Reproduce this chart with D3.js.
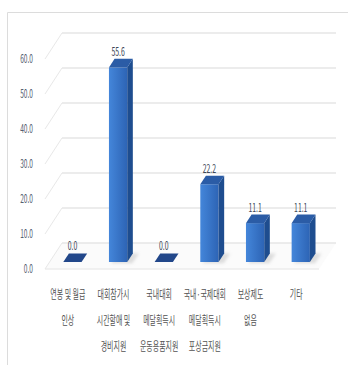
<!DOCTYPE html>
<html><head><meta charset="utf-8">
<script src="https://cdn.jsdelivr.net/npm/d3@7/dist/d3.min.js"></script>
<style>html,body{margin:0;padding:0;background:#fff;}svg{display:block;}</style>
</head><body>
<script>
const categories = ["연봉 및 월급 인상","대회참가시 시간할애 및 경비지원","국내대회 메달획득시 운동용품지원","국내·국제대회 메달획득시 포상금지원","보상제도 없음","기타"];
const categoryLines = [["연봉 및 월급","인상"],["대회참가시","시간할애 및","경비지원"],["국내대회","메달획득시","운동용품지원"],["국내·국제대회","메달획득시","포상금지원"],["보상제도","없음"],["기타"]];
const values = [0.0, 55.6, 0.0, 22.2, 11.1, 11.1];
const ticks = [0, 10, 20, 30, 40, 50, 60];

const W = 348, H = 365;
const svg = d3.select("body").append("svg").attr("width", W).attr("height", H);
const defs = svg.append("defs");
const g1 = defs.append("linearGradient").attr("id","front").attr("x1","0").attr("x2","1").attr("y1","0").attr("y2","0");
g1.append("stop").attr("offset","0").attr("stop-color","#4486da");
g1.append("stop").attr("offset","1").attr("stop-color","#2d64b5");
const blur = defs.append("filter").attr("id","blur").attr("x","-50%").attr("y","-50%").attr("width","200%").attr("height","200%");
blur.append("feGaussianBlur").attr("stdDeviation","1.6");

const FONT = "'Noto Sans CJK KR','Noto Sans',sans-serif";
const SX = 0.58;

// frame
svg.append("path").attr("d", `M7.5,${H} L7.5,12.5 L${W},12.5`).attr("fill","none").attr("stroke","#dcdcdc").attr("stroke-width",1);

const x = d3.scaleBand().domain(categories).range([45, 319]);
const y = d3.scaleLinear().domain([0, 60]).range([0, 210]);
const Y0 = 269, DX = 17, DY = -26;
const P = (px, v, d) => [px + d * DX, Y0 - y(v) + d * DY];
const pts = a => a.map(p => p.join(",")).join(" ");

// floor
svg.append("polygon").attr("points", pts([P(45,0,0),P(319,0,0),P(319,0,1),P(45,0,1)]))
  .attr("fill","#fbfbfb").attr("stroke","none");
svg.append("line").attr("x1",P(45,0,0)[0]).attr("y1",P(45,0,0)[1]).attr("x2",P(319,0,0)[0]).attr("y2",P(319,0,0)[1])
  .attr("stroke","#e4e4e4").attr("stroke-width",1);

// gridlines: side wall slants and back wall
ticks.forEach(t => {
  const a = P(45,t,0), b = P(45,t,1), c = P(319,t,1);
  svg.append("line").attr("x1",a[0]).attr("y1",a[1]).attr("x2",b[0]).attr("y2",b[1]).attr("stroke","#e8e8e8").attr("stroke-width",1);
  svg.append("line").attr("x1",b[0]).attr("y1",b[1]).attr("x2",c[0]).attr("y2",c[1]).attr("stroke","#e6e6e6").attr("stroke-width",1.6);
});

// tick labels
ticks.forEach(t => {
  const a = P(45,t,0);
  svg.append("text").attr("transform",`translate(33,${a[1]+4}) scale(0.55,1)`)
    .attr("text-anchor","end").attr("font-family",FONT).attr("font-size",12).attr("fill","#556070")
    .text(d3.format(".1f")(t));
});

// bars
const D1 = 0.27, D2 = 0.6;
const bw = x.bandwidth() * 0.4;
categories.forEach((c, i) => {
  const v = values[i];
  const xl = x(c) + (x.bandwidth() - bw) / 2, xr = xl + bw;
  const g = svg.append("g");
  g.append("polygon").attr("points", pts([P(xl+3,0,D1-0.05),P(xr+6,0,D1-0.05),P(xr+6,0,D2),P(xl+3,0,D2)]))
    .attr("fill","#bfbfbf").attr("opacity", v > 0 ? 0.5 : 0).attr("filter","url(#blur)");
  if (v > 0) {
    g.append("polygon").attr("points", pts([P(xl,0,D1),P(xr,0,D1),P(xr,v,D1),P(xl,v,D1)])).attr("fill","url(#front)");
    g.append("polygon").attr("points", pts([P(xr,0,D1),P(xr,0,D2),P(xr,v,D2),P(xr,v,D1)])).attr("fill","#1e4d8f");
  }
  g.append("polygon").attr("points", pts([P(xl,v,D1),P(xr,v,D1),P(xr,v,D2),P(xl,v,D2)]))
    .attr("fill", v > 0 ? "#2b5ca6" : "#22478a");
  const top = P((xl+xr)/2, v, D2);
  svg.append("text").attr("transform",`translate(${P((xl+xr)/2,v,D1)[0]},${top[1]-3}) scale(0.6,1)`)
    .attr("text-anchor","middle").attr("font-family",FONT).attr("font-size",11.5).attr("fill","#3d4757")
    .text(d3.format(".1f")(v));
  const cx = x(c) + x.bandwidth() / 2;
  categoryLines[i].forEach((ln, k) => {
    svg.append("text").attr("transform",`translate(${cx},${299 + k*26}) scale(${SX},1)`)
      .attr("text-anchor","middle").attr("font-family",FONT).attr("font-size",12).attr("fill","#525252")
      .text(ln);
  });
});
</script>
</body></html>
